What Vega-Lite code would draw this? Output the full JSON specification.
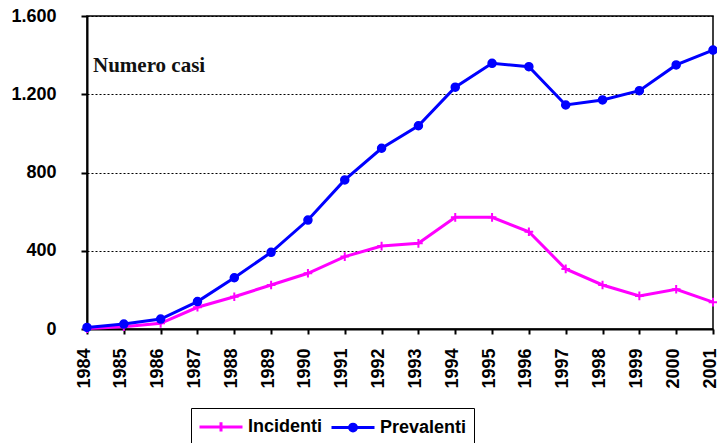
{
  "$schema": "https://vega.github.io/schema/vega-lite/v6.json",
  "width": 626,
  "height": 313,
  "autosize": {"type": "none"},
  "padding": {"left": 87, "top": 16, "right": 4, "bottom": 114},
  "background": "white",
  "config": {
    "view": {"stroke": "black", "strokeWidth": 1.5},
    "font": "Liberation Sans",
    "legend": {
      "orient": "none",
      "legendX": 104,
      "legendY": 392,
      "direction": "horizontal",
      "strokeColor": "black",
      "padding": 7,
      "symbolSize": 400,
      "symbolStrokeWidth": 3,
      "symbolOpacity": 1,
      "labelFont": "Liberation Sans",
      "labelFontSize": 18,
      "labelFontWeight": "bold",
      "labelColor": "black",
      "labelOffset": 27,
      "columnPadding": 2
    }
  },
  "datasets": {
    "series": [
      {"year": 1984, "series": "Incidenti", "value": 2},
      {"year": 1985, "series": "Incidenti", "value": 12},
      {"year": 1986, "series": "Incidenti", "value": 29},
      {"year": 1987, "series": "Incidenti", "value": 111},
      {"year": 1988, "series": "Incidenti", "value": 165},
      {"year": 1989, "series": "Incidenti", "value": 225},
      {"year": 1990, "series": "Incidenti", "value": 285},
      {"year": 1991, "series": "Incidenti", "value": 370},
      {"year": 1992, "series": "Incidenti", "value": 424},
      {"year": 1993, "series": "Incidenti", "value": 438},
      {"year": 1994, "series": "Incidenti", "value": 571},
      {"year": 1995, "series": "Incidenti", "value": 571},
      {"year": 1996, "series": "Incidenti", "value": 497},
      {"year": 1997, "series": "Incidenti", "value": 307},
      {"year": 1998, "series": "Incidenti", "value": 225},
      {"year": 1999, "series": "Incidenti", "value": 169},
      {"year": 2000, "series": "Incidenti", "value": 203},
      {"year": 2001, "series": "Incidenti", "value": 137},
      {"year": 1984, "series": "Prevalenti", "value": 8},
      {"year": 1985, "series": "Prevalenti", "value": 25},
      {"year": 1986, "series": "Prevalenti", "value": 51},
      {"year": 1987, "series": "Prevalenti", "value": 140},
      {"year": 1988, "series": "Prevalenti", "value": 262},
      {"year": 1989, "series": "Prevalenti", "value": 392},
      {"year": 1990, "series": "Prevalenti", "value": 557},
      {"year": 1991, "series": "Prevalenti", "value": 762},
      {"year": 1992, "series": "Prevalenti", "value": 924},
      {"year": 1993, "series": "Prevalenti", "value": 1039},
      {"year": 1994, "series": "Prevalenti", "value": 1236},
      {"year": 1995, "series": "Prevalenti", "value": 1358},
      {"year": 1996, "series": "Prevalenti", "value": 1341},
      {"year": 1997, "series": "Prevalenti", "value": 1145},
      {"year": 1998, "series": "Prevalenti", "value": 1171},
      {"year": 1999, "series": "Prevalenti", "value": 1218},
      {"year": 2000, "series": "Prevalenti", "value": 1350},
      {"year": 2001, "series": "Prevalenti", "value": 1426}
    ],
    "note": [
      {"year": 1984, "value": 1315, "label": "Numero casi"}
    ]
  },
  "encoding": {
    "x": {
      "field": "year",
      "type": "quantitative",
      "scale": {"domain": [1984, 2001], "nice": false, "zero": false},
      "axis": {
        "title": null,
        "values": [1984, 1985, 1986, 1987, 1988, 1989, 1990, 1991, 1992, 1993, 1994, 1995, 1996, 1997, 1998, 1999, 2000, 2001],
        "format": "d",
        "grid": false,
        "labelAngle": -90,
        "labelAlign": "right",
        "labelBaseline": "middle",
        "labelFontSize": 18,
        "labelFontWeight": "bold",
        "labelColor": "black",
        "labelPadding": 14,
        "labelOffset": -3,
        "labelOverlap": false,
        "labelFlush": false,
        "domainColor": "black",
        "domainWidth": 2,
        "tickColor": "black",
        "tickWidth": 2,
        "tickSize": 5
      }
    },
    "y": {
      "field": "value",
      "type": "quantitative",
      "scale": {"domain": [0, 1600], "nice": false},
      "axis": {
        "title": null,
        "values": [0, 400, 800, 1200, 1600],
        "labelExpr": "replace(format(datum.value, ','), ',', '.')",
        "labelFontSize": 18,
        "labelFontWeight": "bold",
        "labelColor": "black",
        "labelPadding": 25,
        "labelFlush": false,
        "domainColor": "black",
        "domainWidth": 2,
        "tickColor": "black",
        "tickWidth": 2,
        "tickSize": 6,
        "grid": true,
        "gridColor": "black",
        "gridWidth": 1,
        "gridDash": [2, 2]
      }
    }
  },
  "layer": [
    {
      "data": {"name": "series"},
      "mark": {"type": "line", "strokeWidth": 3},
      "encoding": {
        "color": {
          "field": "series",
          "type": "nominal",
          "scale": {"domain": ["Incidenti", "Prevalenti"], "range": ["#FF00FF", "#0000FF"]},
          "legend": {"title": null}
        }
      }
    },
    {
      "data": {"name": "series"},
      "transform": [{"filter": "datum.series === 'Incidenti'"}],
      "mark": {"type": "point", "shape": "M0,-1V1M-1,0H1", "size": 75, "filled": false, "stroke": "#FF00FF", "strokeWidth": 2, "opacity": 1}
    },
    {
      "data": {"name": "series"},
      "transform": [{"filter": "datum.series === 'Prevalenti'"}],
      "mark": {"type": "point", "shape": "circle", "size": 64, "filled": true, "fill": "#0000FF", "stroke": "#0000FF", "strokeWidth": 1.5, "opacity": 1}
    },
    {
      "data": {"name": "series"},
      "mark": {"type": "point", "filled": false, "opacity": 0},
      "encoding": {
        "color": {
          "field": "series",
          "type": "nominal",
          "legend": {"title": null}
        },
        "shape": {
          "field": "series",
          "type": "nominal",
          "scale": {
            "domain": ["Incidenti", "Prevalenti"],
            "range": [
              "M-1,0H3.3M1.15,-0.47V0.47",
              "M-1,0H3.3M0.81,0A0.34,0.34 0 1,1 1.49,0A0.34,0.34 0 1,1 0.81,0M0.99,0A0.16,0.16 0 1,1 1.31,0A0.16,0.16 0 1,1 0.99,0"
            ]
          },
          "legend": {"title": null}
        }
      }
    },
    {
      "data": {"name": "note"},
      "mark": {
        "type": "text",
        "align": "left",
        "baseline": "alphabetic",
        "dx": 6,
        "font": "Liberation Serif",
        "fontWeight": "bold",
        "fontSize": 21,
        "color": "#111111"
      },
      "encoding": {
        "text": {"field": "label"}
      }
    }
  ]
}
